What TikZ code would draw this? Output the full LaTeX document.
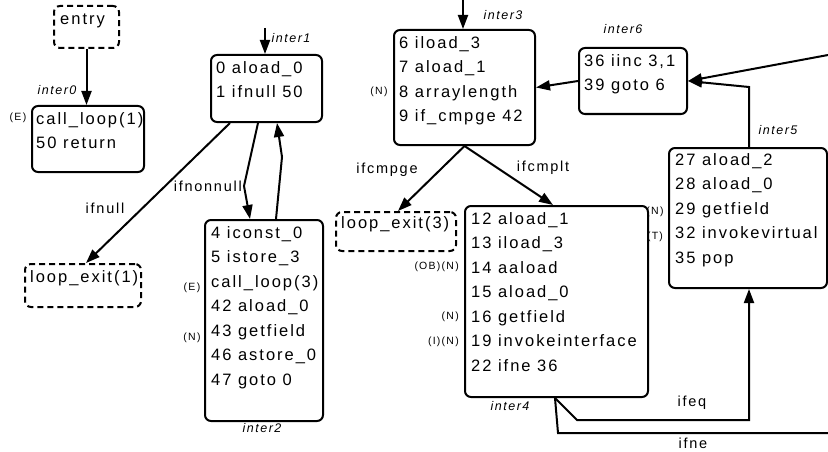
\documentclass[tikz,border=0pt]{standalone}
\usepackage{fontspec}
\setmainfont[LetterSpace=12]{Liberation Sans}
\usetikzlibrary{arrows.meta,calc}
\begin{document}
\begin{tikzpicture}[x=1pt,y=-1pt,
 blk/.style={draw,line width=2pt,rounded corners=6pt,inner sep=0pt,anchor=north west},
 dblk/.style={blk,dash pattern=on 6pt off 4pt},
 code/.style={anchor=north west,inner sep=0pt,align=left,font=\fontsize{16.5}{24.5}\selectfont},
 tag/.style={font=\fontsize{10.5}{12}\selectfont,inner sep=0pt},
 iname/.style={font=\fontsize{12.5}{14}\selectfont\itshape,inner sep=0pt},
 elabel/.style={font=\fontsize{14.5}{16}\selectfont,inner sep=0pt},
 arr/.style={line width=2pt,-{Triangle[length=14pt,width=10pt]}},
 ln/.style={line width=2pt}]
\useasboundingbox (0,0) rectangle (828,452);

% boxes
\node[dblk,minimum width=65pt,minimum height=42pt] (entry) at (53,5) {};
\node[code] (entryt) at ($(entry.north west)+(7,2)$) {\strut entry};

\node[blk,minimum width=112pt,minimum height=66pt] (inter0) at (31,105) {};
\node[code] (inter0t) at ($(inter0.north west)+(5,2)$) {\strut call\_loop(1)\\50 return};

\node[blk,minimum width=111pt,minimum height=67pt] (inter1) at (210,54) {};
\node[code] (inter1t) at ($(inter1.north west)+(6,2)$) {\strut 0 aload\_0\\1 ifnull 50};

\node[dblk,minimum width=116pt,minimum height=43pt] (lexit1) at (24,263) {};
\node[code] (lexit1t) at ($(lexit1.north west)+(6,2)$) {\strut loop\_exit(1)};

\node[blk,minimum width=118pt,minimum height=201pt] (inter2) at (204,219) {};
\node[code] (inter2t) at ($(inter2.north west)+(7,2)$) {\strut 4 iconst\_0\\5 istore\_3\\call\_loop(3)\\42 aload\_0\\43 getfield\\46 astore\_0\\47 goto 0};

\node[blk,minimum width=141pt,minimum height=115pt] (inter3) at (393,29) {};
\node[code] (inter3t) at ($(inter3.north west)+(6,2)$) {\strut 6 iload\_3\\7 aload\_1\\8 arraylength\\9 if\_cmpge 42};

\node[dblk,minimum width=120pt,minimum height=39pt] (lexit3) at (335,211) {};
\node[code] (lexit3t) at ($(lexit3.north west)+(6,0)$) {\strut loop\_exit(3)};

\node[blk,minimum width=183pt,minimum height=191pt] (inter4) at (464,205) {};
\node[code] (inter4t) at ($(inter4.north west)+(7,2)$) {\strut 12 aload\_1\\13 iload\_3\\14 aaload\\15 aload\_0\\16 getfield\\19 invokeinterface\\22 ifne 36};

\node[blk,minimum width=108pt,minimum height=66pt] (inter6) at (578,47) {};
\node[code] (inter6t) at ($(inter6.north west)+(6,2)$) {\strut 36 iinc 3,1\\39 goto 6};

\node[blk,minimum width=158pt,minimum height=140pt] (inter5) at (668,147) {};
\node[code] (inter5t) at ($(inter5.north west)+(7,1)$) {\strut 27 aload\_2\\28 aload\_0\\29 getfield\\32 invokevirtual\\35 pop};

% block names
\node[iname] (n0) at (57,90) {inter0};
\node[iname] (n1) at (291,38) {inter1};
\node[iname] (n2) at (262,428) {inter2};
\node[iname] (n3) at (503,15) {inter3};
\node[iname] (n4) at (510,406) {inter4};
\node[iname] (n5) at (778,130) {inter5};
\node[iname] (n6) at (623,29) {inter6};

% side tags
\node[tag] (t0) at (18,118) {(E)};
\node[tag] (t2a) at (192,288) {(E)};
\node[tag] (t2b) at (192,338) {(N)};
\node[tag] (t3) at (379,92) {(N)};
\node[tag,anchor=east] (t4a) at (459,267) {(OB)(N)};
\node[tag,anchor=east] (t4b) at (459,317) {(N)};
\node[tag,anchor=east] (t4c) at (459,342) {(I)(N)};
\node[tag] (t5a) at (655,212) {(N)};
\node[tag] (t5b) at (655,237) {(T)};

% entry arrows
\coordinate (in1) at (265,28);
\coordinate (in3) at (463,0);
\coordinate (rtop) at (828,55);
\coordinate (rbot) at (828,433);
\draw[arr] (entry.south) -- (entry.south |- inter0.north);
\draw[arr] (in1) -- (in1 |- inter1.north);
\draw[arr] (in3) -- (in3 |- inter3.north);

% inter1 edges
\draw[arr] ($(inter1.south west)+(20,0)$) -- ($(lexit1.north)+(3,0)$);
\node[elabel] (lifnull) at (105,208) {ifnull};
\draw[arr] ($(inter1.south west)+(48,0)$) -- (244,186) -- ($(inter2.north west)+(46,0)$);
\node[elabel,anchor=east] (lifnonnull) at (242,186) {ifnonnull};
\draw[arr] ($(inter2.north west)+(72,0)$) -- (282,157) -- ($(inter1.south west)+(67,0)$);

% inter3 edges
\draw[arr] (inter3.south) -- ($(lexit3.north)+(2,0)$);
\node[elabel] (lifcmpge) at (387,170) {ifcmpge};
\draw[arr] (inter3.south) -- ($(inter4.north west)+(89,0)$);
\node[elabel] (lifcmplt) at (543,168) {ifcmplt};

% inter4 edges
\coordinate (i4o) at ($(inter4.south west)+(91,0)$);
\draw[arr] (i4o) -- (577,420) -| ($(inter5.south)+(1,0)$);
\node[elabel] (lifeq) at (692,403) {ifeq};
\draw[ln] (i4o) -- (558,433) -- (rbot);
\node[elabel] (lifne) at (693,443) {ifne};

% inter6 / inter5 edges
\draw[arr] (inter6.west) -- (inter3.east);
\draw[arr] ($(inter5.north)+(1,0)$) -- ++(0,-60) -- (inter6.east);
\draw[arr] (rtop) -- (inter6.east);
\end{tikzpicture}
\end{document}
